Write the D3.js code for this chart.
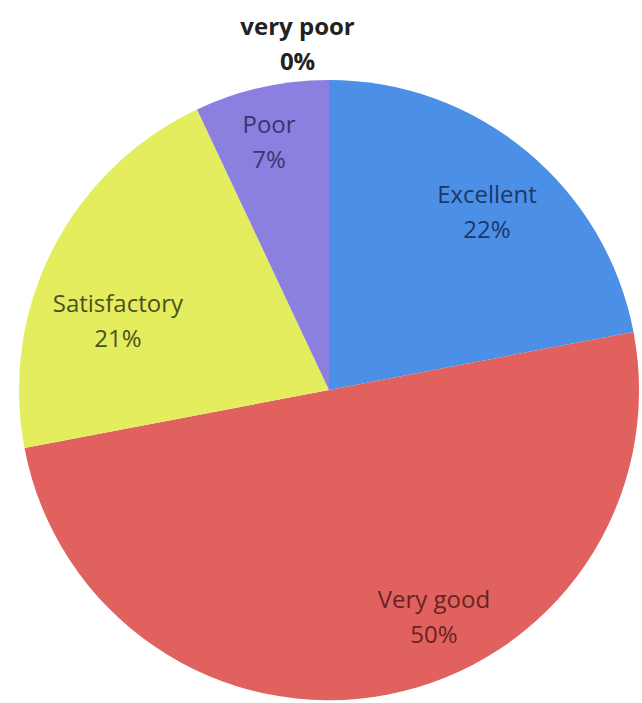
<!DOCTYPE html>
<html><head><meta charset="utf-8">
<script src="https://cdn.jsdelivr.net/npm/d3@7"></script>
<style>html,body{margin:0;padding:0;background:#fff;overflow:hidden}</style>
</head><body>
<svg id="chart" width="642" height="703"></svg>
<script>
const categories = ["Excellent", "Very good", "Satisfactory", "Poor", "very poor"];
const values = [22, 50, 21, 7, 0];
const percentLabels = ["22%", "50%", "21%", "7%", "0%"];

const colors = ["#4b8fe7", "#e0615d", "#e4ed5d", "#8b80e0", "#6f6f6f"];
const textColors = ["#1d3866", "#6a2224", "#4a5222", "#3a3570", "#222"];
// label placement (angle nudge in degrees, radius) per slice
const labelPlace = [[2, 238], [-14, 250], [-9, 222], [-1, 255], [-5.2, 347]];

const svg = d3.select("#chart");
const cx = 329, cy = 390, R = 310;
const g = svg.append("g").attr("transform", `translate(${cx},${cy})`);

const pie = d3.pie().sort(null).value(d => d.value);
const data = categories.map((c, i) => ({cat: c, value: values[i], pct: percentLabels[i], i}));
const arcs = pie(data);
const arc = d3.arc().innerRadius(0).outerRadius(R);

g.selectAll("path").data(arcs.filter(a => a.data.value > 0)).join("path")
  .attr("d", arc)
  .attr("fill", d => colors[d.data.i])
  .attr("stroke", "none");

arcs.forEach(a => {
  const i = a.data.i;
  const mid = (a.startAngle + a.endAngle) / 2 + labelPlace[i][0] * Math.PI / 180;
  const r = labelPlace[i][1];
  const x = Math.sin(mid) * r, y = -Math.cos(mid) * r;
  const bold = a.data.value === 0;
  const t = g.append("text")
    .attr("text-anchor", "middle")
    .attr("font-family", "'Open Sans', sans-serif")
    .attr("font-size", 24)
    .attr("font-weight", bold ? 700 : 400)
    .attr("fill", textColors[i]);
  t.append("tspan").attr("x", x).attr("y", y - 9).text(a.data.cat);
  t.append("tspan").attr("x", x).attr("y", y + 26).text(a.data.pct);
});
</script>
</body></html>
